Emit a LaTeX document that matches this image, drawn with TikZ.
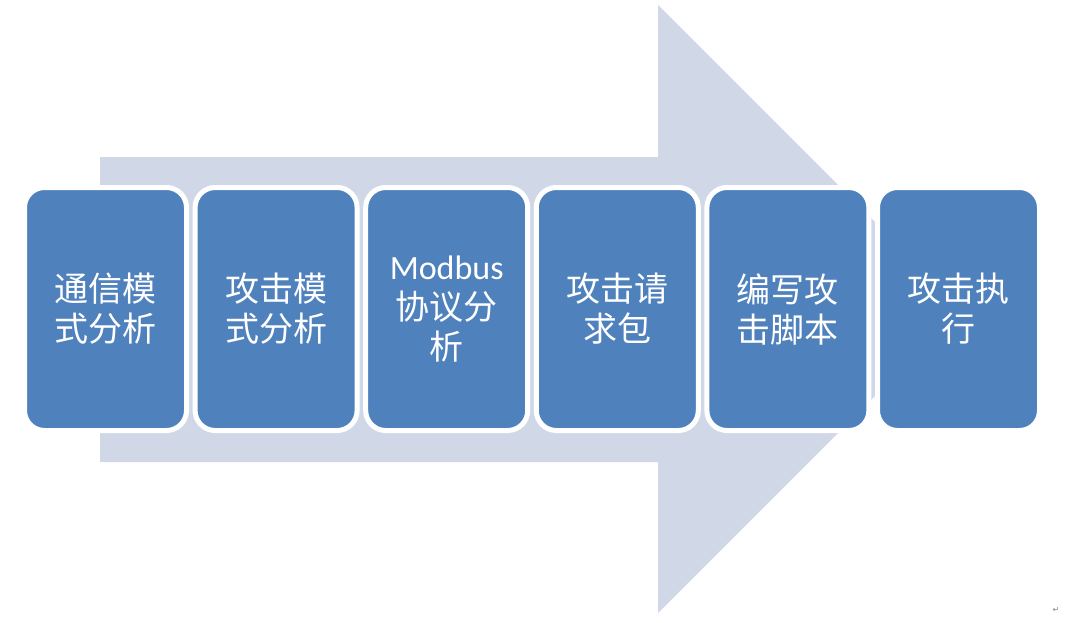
\documentclass[tikz,border=0pt]{standalone}
\usepackage{fontspec}
\setmainfont{Noto Sans CJK SC}
\newfontfamily\latinfont{Carlito}
\newfontfamily\symfont{DejaVu Sans}
\definecolor{arrowfill}{HTML}{D0D8E8}
\definecolor{boxfill}{HTML}{4F81BD}
\begin{document}
\begin{tikzpicture}[x=1pt,y=-1pt,
  stepbox/.style={rectangle, rounded corners=20pt, fill=boxfill, draw=white,
    line width=5pt, minimum width=162pt, minimum height=243pt, inner sep=0pt,
    text=white, align=center, font=\fontsize{34}{40}\selectfont}]
\useasboundingbox (0,0) rectangle (1066,622);
% big arrow
\fill[arrowfill] (100,157) -- (658,157) -- (658,5) -- (962,309) -- (658,613) -- (658,462) -- (100,462) -- cycle;
% steps
\node[stepbox] (b1) at (105.5,309) {通信模\\式分析};
\node[stepbox] (b2) at (276.1,309) {攻击模\\式分析};
\node[stepbox] (b3) at (446.7,309) {{\latinfont Modbus}\\协议分\\析};
\node[stepbox] (b4) at (617.3,309) {攻击请\\求包};
\node[stepbox] (b5) at (787.9,309) {编写攻\\击脚本};
\node[stepbox] (b6) at (958.5,309) {攻击执\\行};
\node[text=gray, font=\symfont\fontsize{8}{8}\selectfont, inner sep=0pt] (pm) at (1056,610) {↵};
\end{tikzpicture}
\end{document}
